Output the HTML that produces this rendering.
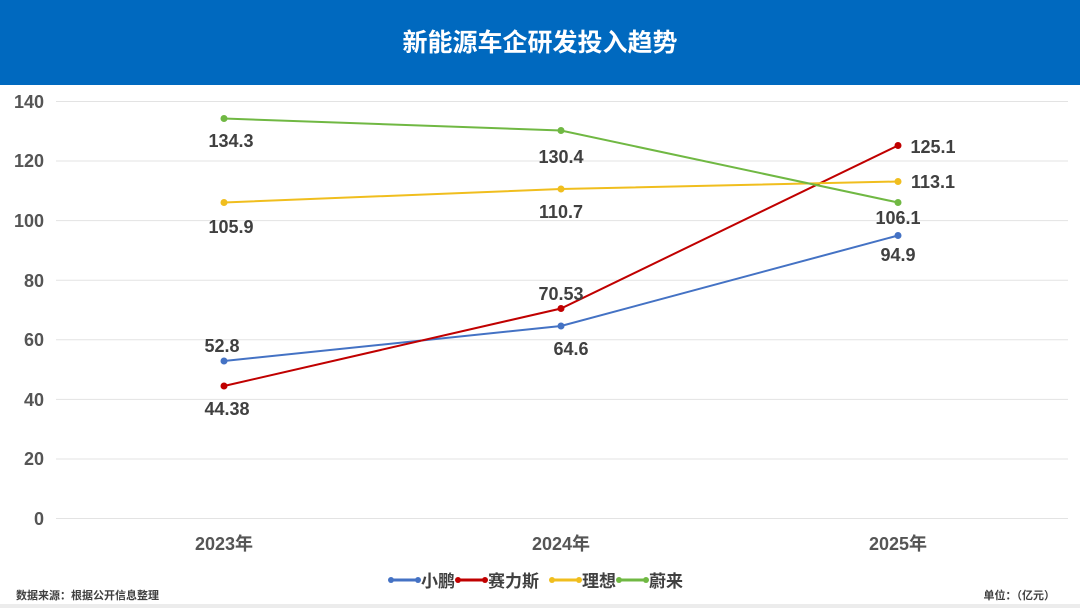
<!DOCTYPE html>
<html><head><meta charset="utf-8"><style>
body{margin:0;width:1080px;height:608px;overflow:hidden;background:#fff;font-family:"Liberation Sans","Noto Sans CJK SC",sans-serif}
</style></head><body>
<svg width="1080" height="608" xmlns="http://www.w3.org/2000/svg" font-family="Liberation Sans, Noto Sans CJK SC, sans-serif">
<rect x="0" y="0" width="1080" height="85" fill="#0069BF"/>
<text x="540" y="51" text-anchor="middle" font-size="25" font-weight="bold" fill="#fff">新能源车企研发投入趋势</text>
<g stroke="#e3e3e3" stroke-width="1">
<line x1="56" x2="1068" y1="101.5" y2="101.5"/><line x1="56" x2="1068" y1="161" y2="161"/>
<line x1="56" x2="1068" y1="220.6" y2="220.6"/><line x1="56" x2="1068" y1="280.2" y2="280.2"/>
<line x1="56" x2="1068" y1="339.8" y2="339.8"/><line x1="56" x2="1068" y1="399.4" y2="399.4"/>
<line x1="56" x2="1068" y1="459" y2="459"/><line x1="56" x2="1068" y1="518.5" y2="518.5"/>
</g>
<g font-size="18" font-weight="bold" fill="#555" text-anchor="end">
<text x="44" y="108">140</text><text x="44" y="167">120</text><text x="44" y="227">100</text>
<text x="44" y="287">80</text><text x="44" y="346">60</text><text x="44" y="406">40</text>
<text x="44" y="465">20</text><text x="44" y="525">0</text>
</g>
<g font-size="18" font-weight="bold" fill="#555" text-anchor="middle">
<text x="224" y="550">2023年</text><text x="561" y="550">2024年</text><text x="898" y="550">2025年</text>
</g>
<g stroke-width="2" fill="none">
<polyline stroke="#4472C4" points="224,361 561,326 898,235.5"/>
<polyline stroke="#C00000" points="224,386 561,308.5 898,145.5"/>
<polyline stroke="#F0BE1E" points="224,202.5 561,189 898,181.5"/>
<polyline stroke="#70B843" points="224,118.5 561,130.5 898,202.5"/>
</g>
<g>
<circle cx="224" cy="361" r="3.5" fill="#4472C4"/><circle cx="561" cy="326" r="3.5" fill="#4472C4"/><circle cx="898" cy="235.5" r="3.5" fill="#4472C4"/>
<circle cx="224" cy="386" r="3.5" fill="#C00000"/><circle cx="561" cy="308.5" r="3.5" fill="#C00000"/><circle cx="898" cy="145.5" r="3.5" fill="#C00000"/>
<circle cx="224" cy="202.5" r="3.5" fill="#F0BE1E"/><circle cx="561" cy="189" r="3.5" fill="#F0BE1E"/><circle cx="898" cy="181.5" r="3.5" fill="#F0BE1E"/>
<circle cx="224" cy="118.5" r="3.5" fill="#70B843"/><circle cx="561" cy="130.5" r="3.5" fill="#70B843"/><circle cx="898" cy="202.5" r="3.5" fill="#70B843"/>
</g>
<g font-size="18" font-weight="bold" fill="#404040" text-anchor="middle">
<text x="231" y="147">134.3</text><text x="561" y="163">130.4</text><text x="898" y="224">106.1</text>
<text x="231" y="233">105.9</text><text x="561" y="218">110.7</text><text x="933" y="188">113.1</text>
<text x="222" y="352">52.8</text><text x="571" y="355">64.6</text><text x="898" y="261">94.9</text>
<text x="227" y="415">44.38</text><text x="561" y="300">70.53</text><text x="933" y="153">125.1</text>
</g>
<g stroke-width="3">
<line x1="391" x2="418" y1="580" y2="580" stroke="#4472C4"/><circle cx="391" cy="580" r="3" fill="#4472C4"/><circle cx="418" cy="580" r="3" fill="#4472C4"/>
<line x1="458" x2="485" y1="580" y2="580" stroke="#C00000"/><circle cx="458" cy="580" r="3" fill="#C00000"/><circle cx="485" cy="580" r="3" fill="#C00000"/>
<line x1="552" x2="579" y1="580" y2="580" stroke="#F0BE1E"/><circle cx="552" cy="580" r="3" fill="#F0BE1E"/><circle cx="579" cy="580" r="3" fill="#F0BE1E"/>
<line x1="619" x2="646" y1="580" y2="580" stroke="#70B843"/><circle cx="619" cy="580" r="3" fill="#70B843"/><circle cx="646" cy="580" r="3" fill="#70B843"/>
</g>
<g font-size="17" font-weight="bold" fill="#404040">
<text x="421" y="587">小鹏</text><text x="488" y="587">赛力斯</text><text x="582" y="587">理想</text><text x="649" y="587">蔚来</text>
</g>
<text x="16" y="599" font-size="11" font-weight="bold" fill="#404040">数据来源：根据公开信息整理</text>
<text x="1055" y="599" font-size="11" font-weight="bold" fill="#404040" text-anchor="end">单位：（亿元）</text>
<rect x="0" y="604" width="1080" height="4" fill="#ececec"/>
</svg>
</body></html>
